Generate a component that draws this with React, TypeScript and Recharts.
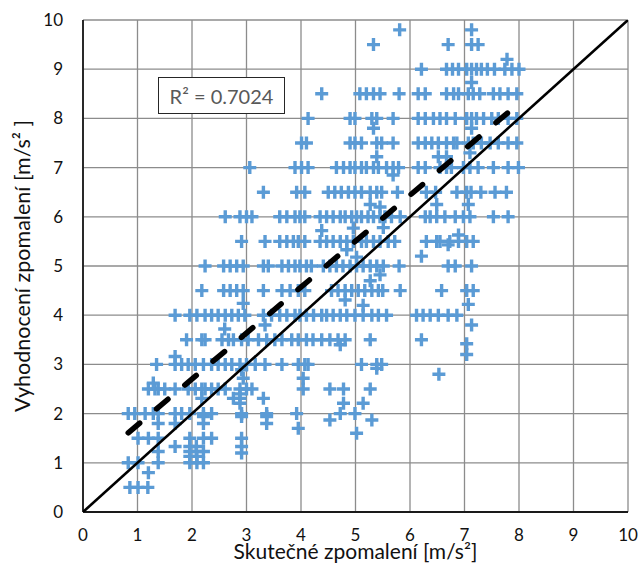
import React from 'react';
import { ScatterChart, Scatter, XAxis, YAxis, CartesianGrid } from 'recharts';

// ---------- data ----------
const xTicks = [0, 1, 2, 3, 4, 5, 6, 7, 8, 9, 10];
const yTicks = [0, 1, 2, 3, 4, 5, 6, 7, 8, 9, 10];

// points lying on the common rating levels (y value -> x values)
const xAt05 = [0.86, 1.01, 1.19];
const xAt10 = [0.83, 1.01, 1.38, 1.96, 2.09, 2.21];
const xAt15 = [1.01, 1.2, 1.38, 1.96, 2.21, 2.36, 2.91];
const xAt20 = [0.83, 0.95, 1.14, 1.29, 1.38, 1.69, 1.81, 1.96, 2.21, 2.36, 2.91, 3.37, 3.92, 4.72, 4.99];
const xAt25 = [1.2, 1.32, 1.38, 1.5, 1.69, 1.93, 2.06, 2.18, 2.24, 2.36, 2.48, 2.61, 2.88, 3.0, 3.1, 4.04, 4.53, 4.78, 5.27];
const xAt30 = [1.35, 1.69, 1.81, 1.93, 2.06, 2.21, 2.36, 2.48, 2.61, 2.73, 2.88, 3.0, 3.16, 3.34, 3.65, 3.95, 4.07, 4.13, 5.11, 5.39, 5.48];
const xAt35 = [1.9, 2.18, 2.24, 2.55, 2.67, 2.76, 2.91, 3.03, 3.22, 3.37, 3.52, 3.65, 3.83, 3.95, 4.1, 4.22, 4.38, 4.53, 4.68, 4.81, 5.27, 6.21];
const xAt40 = [1.69, 1.96, 2.09, 2.24, 2.36, 2.48, 2.61, 2.73, 2.85, 2.97, 3.31, 3.46, 3.61, 3.74, 3.89, 3.98, 4.1, 4.23, 4.38, 4.47, 4.59, 4.72, 4.84, 4.99, 5.14, 5.3, 5.42, 5.57, 6.12, 6.24, 6.37, 6.52, 6.7, 6.86];
const xAt45 = [2.18, 2.58, 2.7, 2.82, 2.94, 3.31, 3.65, 3.8, 3.95, 4.07, 4.56, 4.68, 4.81, 4.93, 5.05, 5.17, 5.3, 5.42, 5.5, 5.82, 6.58, 7.04, 7.16];
const xAt50 = [2.24, 2.58, 2.7, 2.82, 2.94, 3.31, 3.4, 3.65, 3.77, 3.89, 3.98, 4.1, 4.19, 4.41, 4.53, 4.65, 4.77, 4.9, 5.02, 5.14, 5.27, 5.39, 5.51, 5.8, 6.7, 6.83, 7.13];
const xAt55 = [2.91, 3.34, 3.61, 3.74, 3.86, 3.95, 4.07, 4.35, 4.47, 4.59, 4.72, 4.84, 4.96, 5.11, 5.2, 5.33, 5.45, 5.6, 5.72, 6.3, 6.49, 6.55, 6.73, 6.89, 7.04, 7.16];
const xAt60 = [2.61, 2.88, 3.0, 3.1, 3.61, 3.74, 3.89, 3.98, 4.07, 4.35, 4.47, 4.59, 4.72, 4.81, 4.93, 5.02, 5.11, 5.23, 5.33, 5.45, 5.54, 5.66, 5.82, 6.28, 6.37, 6.49, 6.64, 6.83, 6.98, 7.1, 7.53, 7.8];
const xAt65 = [3.31, 3.92, 4.07, 4.5, 4.62, 4.74, 4.87, 4.99, 5.11, 5.27, 5.39, 5.48, 5.77, 6.3, 6.47, 6.86, 7.04, 7.12, 7.3, 7.56, 7.77];
const xAt70 = [3.06, 3.89, 4.01, 4.13, 4.65, 4.78, 4.9, 4.99, 5.11, 5.2, 5.33, 5.42, 5.57, 5.69, 5.79, 6.15, 6.28, 6.55, 6.67, 6.76, 6.98, 7.1, 7.25, 7.53, 7.8, 7.99];
const xAt75 = [4.01, 4.1, 4.9, 4.99, 5.11, 5.39, 5.48, 5.69, 6.15, 6.28, 6.4, 6.52, 6.67, 6.8, 6.86, 7.07, 7.16, 7.31, 7.47, 7.62, 7.8, 7.96];
const xAt80 = [4.13, 4.9, 4.99, 5.3, 5.39, 5.69, 6.15, 6.28, 6.43, 6.55, 6.67, 6.83, 7.04, 7.13, 7.22, 7.35, 7.5, 7.62, 7.8, 7.96];
const xAt85 = [4.38, 5.08, 5.2, 5.33, 5.45, 5.8, 6.15, 6.28, 6.67, 6.8, 6.89, 7.07, 7.16, 7.28, 7.53, 7.65, 7.8, 7.96];
const xAt90 = [6.21, 6.67, 6.78, 6.89, 7.04, 7.13, 7.22, 7.31, 7.42, 7.55, 7.74, 7.87, 8.0];
const xAt95 = [5.33, 6.7, 7.13, 7.25];
const xAt98 = [5.81, 7.13];

const ratingLevels: [number, number[]][] = [
  [0.5, xAt05], [1.0, xAt10], [1.5, xAt15], [2.0, xAt20], [2.5, xAt25],
  [3.0, xAt30], [3.5, xAt35], [4.0, xAt40], [4.5, xAt45], [5.0, xAt50],
  [5.5, xAt55], [6.0, xAt60], [6.5, xAt65], [7.0, xAt70], [7.5, xAt75],
  [8.0, xAt80], [8.5, xAt85], [9.0, xAt90], [9.5, xAt95], [9.8, xAt98],
];

// points lying between the common levels [x, y]
const offLevelPoints: [number, number][] = [
  [7.13, 8.73], [5.33, 7.8], [7.13, 7.8], [7.78, 9.2],
  [5.39, 7.22], [6.52, 7.22], [6.67, 7.22], [7.1, 7.3],
  [5.69, 6.85],
  [5.27, 6.25], [5.45, 6.2], [6.49, 6.25], [7.07, 6.25],
  [4.38, 5.72], [4.96, 5.77], [5.51, 5.78],
  [6.89, 5.63], [6.7, 5.43], [6.21, 5.2], [4.84, 5.33], [5.02, 5.18],
  [5.45, 4.82], [5.27, 4.7],
  [4.81, 4.31], [5.14, 4.2], [2.94, 4.24], [7.07, 4.22],
  [7.13, 3.8], [3.34, 3.8], [2.6, 3.72],
  [4.72, 3.4], [7.04, 3.42], [7.04, 3.2], [1.69, 3.16],
  [5.39, 2.92], [2.91, 2.89], [6.53, 2.8], [4.04, 2.72], [2.94, 2.72],
  [1.29, 2.62], [2.88, 2.4], [2.18, 2.31], [2.76, 2.31], [2.88, 2.31], [3.31, 2.31],
  [2.88, 2.21], [4.78, 2.21], [5.14, 2.21],
  [2.21, 1.94], [2.91, 1.94], [3.37, 1.94], [1.38, 1.8], [1.69, 1.8], [2.21, 1.8],
  [3.37, 1.8], [3.95, 1.7], [4.53, 1.87], [5.3, 1.87], [5.02, 1.6],
  [1.69, 1.33], [1.96, 1.33], [2.08, 1.33], [2.91, 1.33], [1.38, 1.23], [1.96, 1.23],
  [2.08, 1.23], [2.21, 1.23], [2.91, 1.2], [1.96, 1.13], [2.09, 1.13], [1.2, 0.8],
];

// linear trend of the data (Excel trendline) and the ideal y = x line
const trendSlope = 0.934;
const trendIntercept = 0.835;
const trendXRange = [0.83, 8.0];
const identityRange = [0, 10];
const rSquaredText = 'R² = 0.7024';

const xTitle = 'Skutečné zpomalení [m/s²]';
const yTitle = 'Vyhodnocení zpomalení [m/s² ]';

// ---------- build table ----------
const points = [
  ...ratingLevels.flatMap(([y, xs]) => xs.map((x) => ({ x, y }))),
  ...offLevelPoints.map(([x, y]) => ({ x, y })),
];

const trendSegment = trendXRange.map((x) => ({ x, y: trendSlope * x + trendIntercept }));
const identitySegment = identityRange.map((v) => ({ x: v, y: v }));

const FONT = 'Lato, "Open Sans", sans-serif';
const BLUE = '#5B9BD5';

function PlusMarker(props: any) {
  const { cx, cy } = props;
  if (cx == null || cy == null) return <g />;
  const h = 6.5;
  return (
    <path
      d={`M${cx - h},${cy}H${cx + h}M${cx},${cy - h}V${cy + h}`}
      stroke={BLUE}
      strokeWidth={3.4}
      fill="none"
    />
  );
}

function NoMarker() {
  return <g />;
}

export default function App() {
  return (
    <div style={{ position: 'absolute', left: 0, top: 0, width: 641, height: 565, background: '#fff' }}>
      <ScatterChart
        width={641}
        height={565}
        margin={{ top: 20, right: 13, bottom: 0, left: 0 }}
        style={{ fontFamily: FONT }}
      >
        <CartesianGrid stroke="#8c8c8c" strokeWidth={1.3} />
        <XAxis
          type="number"
          dataKey="x"
          domain={[0, 10]}
          ticks={xTicks}
          interval={0}
          allowDataOverflow
          height={53}
          tickLine={false}
          tickSize={0}
          tickMargin={17}
          axisLine={{ stroke: '#1a1a1a', strokeWidth: 1.8 }}
          tick={{ fontSize: 17, fill: '#111', fontFamily: FONT }}
          label={{
            value: xTitle,
            position: 'insideBottom',
            offset: 6,
            style: { fontSize: 21, fill: '#111', fontFamily: FONT },
          }}
        />
        <YAxis
          type="number"
          dataKey="y"
          domain={[0, 10]}
          ticks={yTicks}
          interval={0}
          allowDataOverflow
          width={83}
          tickLine={false}
          tickSize={0}
          tickMargin={20}
          axisLine={{ stroke: '#1a1a1a', strokeWidth: 1.8 }}
          tick={{ fontSize: 17, fill: '#111', fontFamily: FONT }}
          label={{
            value: yTitle,
            angle: -90,
            position: 'insideLeft',
            offset: 22,
            style: { fontSize: 21.5, fill: '#111', fontFamily: FONT, textAnchor: 'middle' },
          }}
        />
        <Scatter data={points} shape={<PlusMarker />} isAnimationActive={false} />
        <Scatter
          data={identitySegment}
          line={{ stroke: '#000', strokeWidth: 2.6 }}
          shape={<NoMarker />}
          isAnimationActive={false}
        />
        <Scatter
          data={trendSegment}
          line={{ stroke: '#000', strokeWidth: 5.5, strokeDasharray: '15 22', strokeLinecap: 'round' }}
          shape={<NoMarker />}
          isAnimationActive={false}
        />
      </ScatterChart>
      <div
        style={{
          position: 'absolute',
          left: 158,
          top: 77,
          width: 127,
          height: 37,
          boxSizing: 'border-box',
          border: '1px solid #262626',
          background: '#fff',
          display: 'flex',
          alignItems: 'center',
          justifyContent: 'center',
          fontFamily: FONT,
          fontSize: 20,
          color: '#595959',
          whiteSpace: 'nowrap',
        }}
      >
        {rSquaredText}
      </div>
    </div>
  );
}
